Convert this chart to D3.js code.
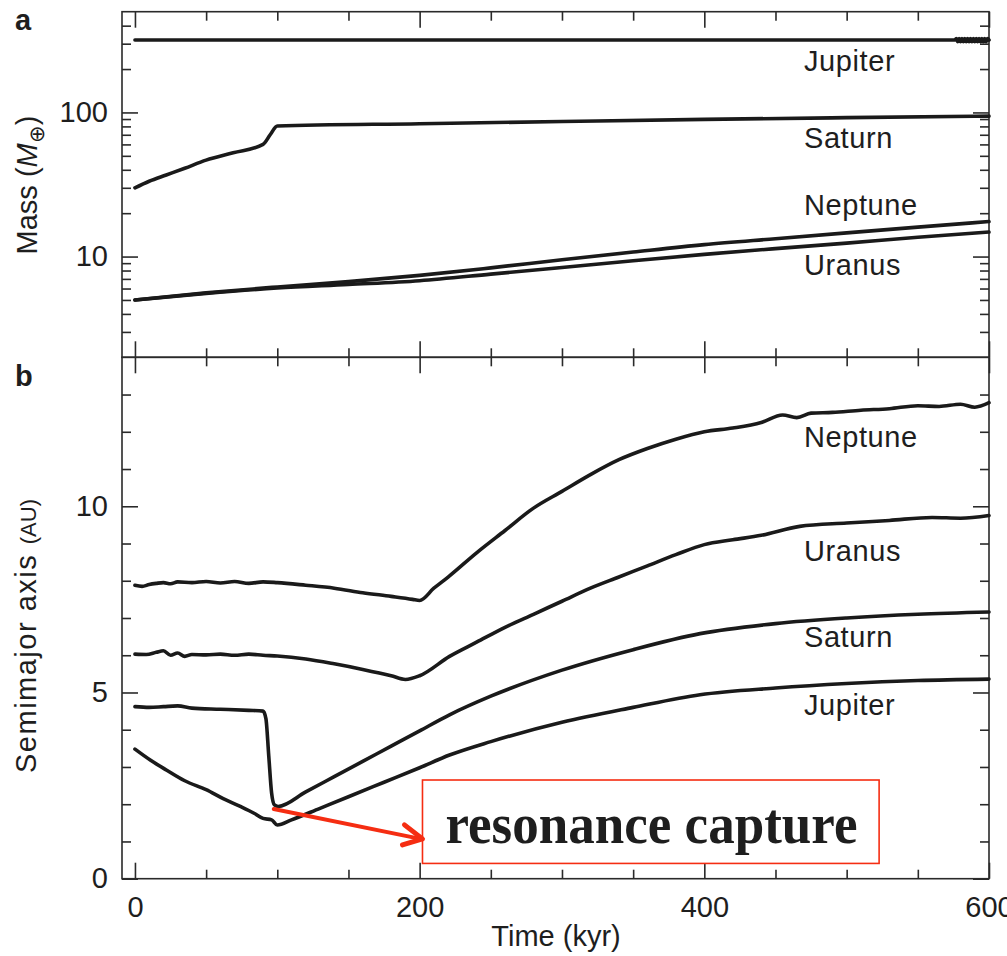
<!DOCTYPE html>
<html>
<head>
<meta charset="utf-8">
<script src="https://cdn.jsdelivr.net/npm/d3@7"></script>
<style>
  body { margin: 0; background: #fff; }
  svg text { font-family: "Liberation Sans", Arial, Helvetica, sans-serif; fill: #1e1e1e; }
</style>
</head>
<body>
<svg id="chart" width="1007" height="956"></svg>
<script>
// ---- tick values -------------------------------------------------------
const timeMajorTicks = [0, 200, 400, 600];
const timeMinorTicks = [50, 100, 150, 250, 300, 350, 450, 500, 550];
const massMajorTicks = [10, 100];
const massMinorTicks = [3, 4, 5, 6, 7, 8, 9, 20, 30, 40, 50, 60, 70, 80, 90, 200, 300, 400];
const axisMajorTicks = [0, 5, 10];
const axisMinorTicks = [1, 2, 3, 4, 6, 7, 8, 9, 11, 12, 13];

// ---- panel a: planet masses (Earth masses) vs time (kyr) ----------------
const jupiterMassTime = [0, 100, 200, 300, 400, 500, 576, 577, 578, 579, 580, 581, 582, 583, 584, 585, 586, 587, 588, 589, 590,
                         591, 592, 593, 594, 595, 596, 597, 598, 599, 600];
const jupiterMass     = [318, 318, 318, 318, 318, 318, 318, 326, 310, 326, 310, 326, 310, 326, 310, 326, 310, 326, 310, 326, 310,
                         326, 310, 326, 310, 326, 310, 326, 310, 326, 318];
const saturnMassTime  = [0, 10, 22, 35, 50, 69, 90, 95, 100, 200, 300, 400, 500, 600];
const saturnMass      = [30, 33.3, 36.8, 41, 46.7, 52.5, 60, 70, 80.5, 83.5, 86.5, 89.5, 92, 94.3];
const uranusMassTime  = [0, 50, 100, 150, 200, 250, 300, 350, 400, 450, 500, 550, 600];
const uranusMass      = [5.0, 5.55, 6.05, 6.4, 6.8, 7.55, 8.4, 9.35, 10.35, 11.35, 12.4, 13.6, 14.8];
const neptuneMassTime = [0, 50, 100, 150, 200, 250, 300, 350, 400, 450, 500, 550, 600];
const neptuneMass     = [5.0, 5.6, 6.15, 6.7, 7.4, 8.35, 9.5, 10.75, 12.1, 13.3, 14.6, 16.0, 17.5];

// ---- panel b: semimajor axes (AU) vs time (kyr) ------------------------
const neptuneAxisTime = [0, 5, 10, 15, 20, 25, 30, 40, 50, 60, 70, 80, 90, 100, 120, 140, 160, 180, 195, 200,
                         210, 220, 240, 260, 280, 300, 320, 340, 360, 380, 400, 420, 440, 455, 465, 475, 490, 510, 530, 550, 565, 580, 590, 600];
const neptuneAxis     = [7.88, 7.85, 7.9, 7.93, 7.95, 7.92, 7.97, 7.95, 7.98, 7.94, 7.98, 7.93, 7.97, 7.95, 7.88, 7.8, 7.68, 7.58, 7.5, 7.47,
                         7.8, 8.1, 8.75, 9.35, 9.95, 10.4, 10.85, 11.25, 11.55, 11.8, 12.0, 12.1, 12.25, 12.45, 12.38, 12.5, 12.52, 12.58, 12.62, 12.7, 12.68, 12.74, 12.66, 12.78];
const uranusAxisTime  = [0, 8, 15, 20, 25, 30, 35, 40, 50, 60, 70, 80, 90, 100, 120, 140, 160, 180, 190, 200,
                         221, 240, 260, 280, 300, 320, 340, 360, 380, 400, 420, 440, 467, 500, 530, 560, 580, 600];
const uranusAxis      = [6.03, 6.02, 6.08, 6.12, 6.0, 6.06, 5.97, 6.02, 6.01, 6.03, 6.0, 6.03, 6.0, 5.98, 5.9, 5.77, 5.62, 5.45, 5.35, 5.45,
                         5.97, 6.35, 6.75, 7.1, 7.45, 7.8, 8.1, 8.4, 8.7, 8.97, 9.1, 9.22, 9.46, 9.55, 9.62, 9.7, 9.68, 9.75];
const saturnAxisTime  = [0, 10, 20, 30, 40, 60, 80, 90, 92, 94, 96, 98, 100.6, 120, 140, 160, 180, 200, 221, 250, 300, 350, 397, 450, 500, 550, 600];
const saturnAxis      = [4.62, 4.6, 4.62, 4.64, 4.58, 4.55, 4.52, 4.5, 4.3, 3.3, 2.3, 1.98, 1.94, 2.33, 2.74, 3.15, 3.56, 3.97, 4.4, 4.9, 5.6, 6.15, 6.58, 6.85, 7.0, 7.1, 7.16];
const jupiterAxisTime = [0, 11, 22, 35, 50, 62, 74, 84, 90, 96, 100, 110, 130, 150, 175, 200, 221, 250, 300, 350, 397, 450, 500, 550, 600];
const jupiterAxis     = [3.48, 3.18, 2.92, 2.63, 2.39, 2.15, 1.94, 1.75, 1.62, 1.58, 1.44, 1.58, 1.89, 2.2, 2.59, 2.98, 3.32, 3.68, 4.2, 4.6, 4.94, 5.12, 5.24, 5.32, 5.36];

// label anchors (time, value) for the planet names
const massLabelNames  = ["Jupiter", "Saturn", "Neptune", "Uranus"];
const massLabelValues = [194, 57, 19.4, 7.47];
const axisLabelNames  = ["Neptune", "Uranus", "Saturn", "Jupiter"];
const axisLabelValues = [11.6, 8.52, 6.22, 4.4];
const labelTime = 470;

// ---- layout -----------------------------------------------------------
const svg = d3.select("#chart");
const left = 122, right = 989;
const topA = 11.7, midY = 357.3, bottomB = 878.7;

const x  = d3.scaleLinear().domain([-9.1, 600]).range([left, right]);
const yA = d3.scaleLog().domain([2, 500]).range([midY, topA]);
const yB = d3.scaleLinear().domain([0, 14]).range([bottomB, midY]);

const axisColor = "#2a2a2a";
const majorLen = 16, minorLen = 9;

function styleAxis(g) {
  g.select(".domain").remove();
  g.selectAll(".tick line").attr("stroke", axisColor).attr("stroke-width", 1.6);
  g.selectAll(".tick text").attr("font-size", 29).attr("fill", "#1e1e1e")
    .attr("font-family", "'Liberation Sans', Arial, sans-serif");
}

function addAxis(axis, transform) {
  svg.append("g").attr("transform", transform).call(axis).call(styleAxis);
}

// horizontal time axes: top of a (down), divider (up and down)
const fmtNone = () => "";
[
  [d3.axisBottom, topA],
  [d3.axisTop, midY],
  [d3.axisBottom, midY],
].forEach(([make, yy]) => {
  addAxis(make(x).tickValues(timeMajorTicks).tickSize(majorLen).tickFormat(fmtNone), `translate(0,${yy})`);
  addAxis(make(x).tickValues(timeMinorTicks).tickSize(minorLen).tickFormat(fmtNone), `translate(0,${yy})`);
});
// bottom axis with labels, ticks pointing up
addAxis(d3.axisBottom(x).tickValues(timeMajorTicks).tickSize(-majorLen).tickPadding(17.5).tickFormat(d3.format("d")), `translate(0,${bottomB})`);
addAxis(d3.axisBottom(x).tickValues(timeMinorTicks).tickSize(-minorLen).tickFormat(fmtNone), `translate(0,${bottomB})`);

// panel a vertical axes
addAxis(d3.axisLeft(yA).tickValues(massMajorTicks).tickSize(-majorLen).tickPadding(14).tickFormat(d3.format("d")), `translate(${left},0)`);
addAxis(d3.axisLeft(yA).tickValues(massMinorTicks).tickSize(-minorLen).tickFormat(fmtNone), `translate(${left},0)`);
addAxis(d3.axisRight(yA).tickValues(massMajorTicks).tickSize(-majorLen).tickFormat(fmtNone), `translate(${right},0)`);
addAxis(d3.axisRight(yA).tickValues(massMinorTicks).tickSize(-minorLen).tickFormat(fmtNone), `translate(${right},0)`);

// panel b vertical axes
addAxis(d3.axisLeft(yB).tickValues(axisMajorTicks).tickSize(-majorLen).tickPadding(14).tickFormat(d3.format("d")), `translate(${left},0)`);
addAxis(d3.axisLeft(yB).tickValues(axisMinorTicks).tickSize(-minorLen).tickFormat(fmtNone), `translate(${left},0)`);
addAxis(d3.axisRight(yB).tickValues(axisMajorTicks).tickSize(-majorLen).tickFormat(fmtNone), `translate(${right},0)`);
addAxis(d3.axisRight(yB).tickValues(axisMinorTicks).tickSize(-minorLen).tickFormat(fmtNone), `translate(${right},0)`);

// frames
svg.append("rect").attr("x", left).attr("y", topA).attr("width", right - left).attr("height", midY - topA)
  .attr("fill", "none").attr("stroke", axisColor).attr("stroke-width", 1.6);
svg.append("rect").attr("x", left).attr("y", midY).attr("width", right - left).attr("height", bottomB - midY)
  .attr("fill", "none").attr("stroke", axisColor).attr("stroke-width", 1.6);

// ---- curves -------------------------------------------------------------
const curveStyle = p => p.attr("fill", "none").attr("stroke", "#1a1a1a").attr("stroke-width", 3.6)
  .attr("stroke-linejoin", "round").attr("stroke-linecap", "round");

const massLine = d3.line().curve(d3.curveMonotoneX).x(d => x(d[0])).y(d => yA(d[1]));
const axisLine = d3.line().curve(d3.curveMonotoneX).x(d => x(d[0])).y(d => yB(d[1]));

[[jupiterMassTime, jupiterMass], [saturnMassTime, saturnMass], [uranusMassTime, uranusMass], [neptuneMassTime, neptuneMass]]
  .forEach(([t, v]) => svg.append("path").datum(d3.zip(t, v)).attr("d", massLine).call(curveStyle));

[[neptuneAxisTime, neptuneAxis], [uranusAxisTime, uranusAxis], [saturnAxisTime, saturnAxis], [jupiterAxisTime, jupiterAxis]]
  .forEach(([t, v]) => svg.append("path").datum(d3.zip(t, v)).attr("d", axisLine).call(curveStyle));

// planet name labels
massLabelNames.forEach((n, i) => svg.append("text").attr("x", x(labelTime)).attr("y", yA(massLabelValues[i]))
  .attr("font-size", 29).attr("letter-spacing", 0.6).text(n));
axisLabelNames.forEach((n, i) => svg.append("text").attr("x", x(labelTime)).attr("y", yB(axisLabelValues[i]))
  .attr("font-size", 29).attr("letter-spacing", 0.6).text(n));

// ---- titles ---------------------------------------------------------------
svg.append("text").attr("x", 15).attr("y", 30).attr("font-size", 29).attr("font-weight", "bold").text("a");
svg.append("text").attr("x", 15).attr("y", 386).attr("font-size", 29).attr("font-weight", "bold").text("b");

const massTitle = svg.append("text").attr("transform", "translate(37,185) rotate(-90)")
  .attr("text-anchor", "middle").attr("font-size", 29);
massTitle.append("tspan").text("Mass (");
massTitle.append("tspan").attr("font-style", "italic").text("M");
massTitle.append("tspan").attr("font-size", 21).attr("dy", 7).text("⊕");
massTitle.append("tspan").attr("dy", -7).text(")");

const axisTitle = svg.append("text").attr("transform", "translate(36,636) rotate(-90)")
  .attr("text-anchor", "middle").attr("font-size", 29);
axisTitle.append("tspan").attr("letter-spacing", 1.5).text("Semimajor axis ");
axisTitle.append("tspan").attr("font-size", 22).text("(AU)");

svg.append("text").attr("x", 556).attr("y", 946).attr("text-anchor", "middle").attr("font-size", 29).text("Time (kyr)");

// ---- annotation: resonance capture ------------------------------------------
const red = "#f52d12";
const boxX0 = x(202), boxX1 = x(522.8);
const boxY0 = yB(2.65), boxY1 = yB(0.41);
svg.append("rect").attr("x", boxX0).attr("y", boxY0).attr("width", boxX1 - boxX0).attr("height", boxY1 - boxY0)
  .attr("fill", "#fff").attr("stroke", red).attr("stroke-width", 1.6);
svg.append("text").attr("x", boxX0 + 23).attr("y", boxY0 + 62.7)
  .attr("font-weight", "bold").attr("font-size", 58).attr("textLength", 412).attr("lengthAdjust", "spacingAndGlyphs")
  .style("font-family", "'Liberation Serif', 'Times New Roman', serif").attr("fill", "#2b2b2b")
  .text("resonance capture");

const ax0 = x(97.5), ay0 = yB(1.87);
const ax1 = boxX0, ay1 = yB(1.07);
svg.append("line").attr("x1", ax0).attr("y1", ay0).attr("x2", ax1 - 2).attr("y2", ay1)
  .attr("stroke", red).attr("stroke-width", 4).attr("stroke-linecap", "round");
svg.append("path").attr("d", `M${ax1 - 18},${ay1 - 14}L${ax1},${ay1}L${ax1 - 20},${ay1 + 6}`)
  .attr("fill", "none").attr("stroke", red).attr("stroke-width", 5).attr("stroke-linecap", "round").attr("stroke-linejoin", "round");
</script>
</body>
</html>
